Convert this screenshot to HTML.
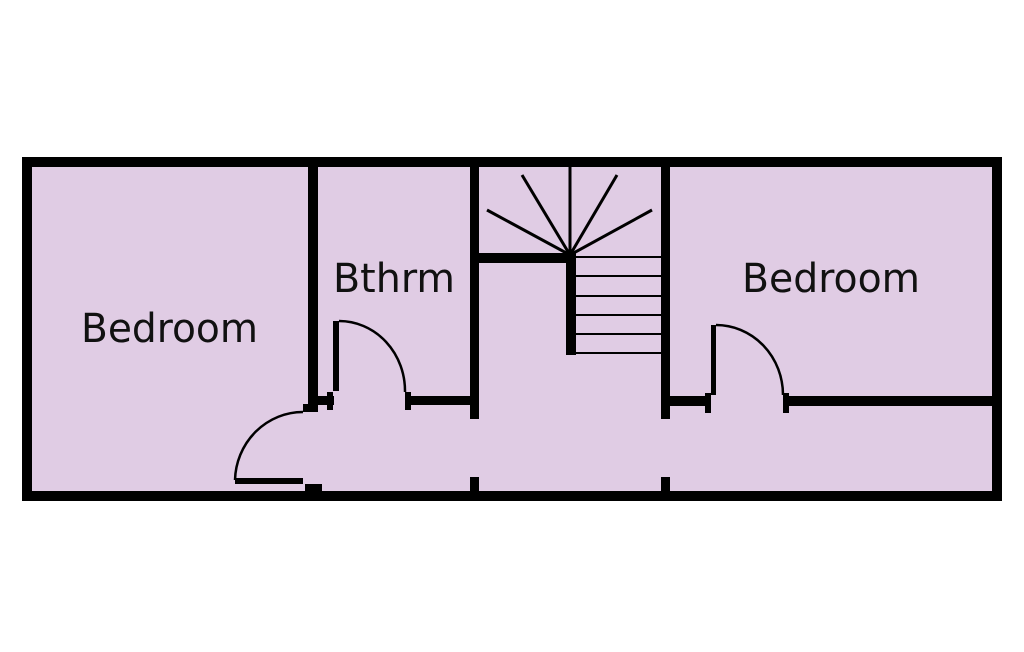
<!DOCTYPE html>
<html><head><style>html,body{margin:0;padding:0;background:#fff;}svg{display:block}</style></head>
<body>
<svg width="1024" height="652" viewBox="0 0 1024 652" xmlns="http://www.w3.org/2000/svg">
<rect x="27" y="162" width="970" height="334" fill="#e0cce4" stroke="#000" stroke-width="10"/>
<g fill="#000">
<!-- left partition -->
<rect x="308" y="162" width="10" height="246"/>
<!-- stair walls -->
<rect x="470" y="162" width="9" height="257"/>
<rect x="661" y="162" width="9" height="257"/>
<rect x="470" y="477" width="9" height="20"/>
<rect x="661" y="477" width="9" height="20"/>
<!-- landing -->
<rect x="479" y="253" width="97" height="10"/>
<rect x="566" y="253" width="10" height="102"/>
<!-- bathroom wall -->
<rect x="411" y="396" width="59" height="9"/>
<rect x="405" y="392" width="6" height="18"/>
<rect x="318" y="396" width="16" height="9"/>
<rect x="327" y="392" width="6" height="18"/>
<rect x="333" y="321" width="6" height="70"/>
<!-- right bedroom wall -->
<rect x="670" y="396" width="39" height="10"/>
<rect x="705" y="393" width="6" height="20"/>
<rect x="711" y="325" width="5" height="70"/>
<rect x="783" y="393" width="6" height="20"/>
<rect x="789" y="396" width="208" height="10"/>
<!-- bottom-left door -->
<rect x="303" y="404" width="15" height="8"/>
<rect x="235" y="478" width="68" height="6"/>
<rect x="305" y="484" width="17" height="8"/>
</g>
<g fill="none" stroke="#000" stroke-width="2.5">
<path d="M339 321 A66 70 0 0 1 405 392"/>
<path d="M716 325 A67 70 0 0 1 783 395"/>
<path d="M303 412 A68 70 0 0 0 235 480"/>
</g>
<g stroke="#000" stroke-width="3">
<line x1="570" y1="255" x2="487" y2="210"/>
<line x1="570" y1="255" x2="522" y2="175"/>
<line x1="570" y1="255" x2="570" y2="167"/>
<line x1="570" y1="255" x2="617" y2="175"/>
<line x1="570" y1="255" x2="652" y2="210"/>
</g>
<g stroke="#000" stroke-width="2">
<line x1="576" y1="257" x2="661" y2="257"/>
<line x1="576" y1="276" x2="661" y2="276"/>
<line x1="576" y1="296" x2="661" y2="296"/>
<line x1="576" y1="315" x2="661" y2="315"/>
<line x1="576" y1="334" x2="661" y2="334"/>
<line x1="576" y1="353" x2="661" y2="353"/>
</g>
<g font-family="'DejaVu Sans','Liberation Sans',sans-serif" font-size="40" fill="#111">
<text x="81" y="342" textLength="177" lengthAdjust="spacingAndGlyphs">Bedroom</text>
<text x="333" y="292" textLength="122" lengthAdjust="spacingAndGlyphs">Bthrm</text>
<text x="742" y="292" textLength="178" lengthAdjust="spacingAndGlyphs">Bedroom</text>
</g>
</svg>
</body></html>
